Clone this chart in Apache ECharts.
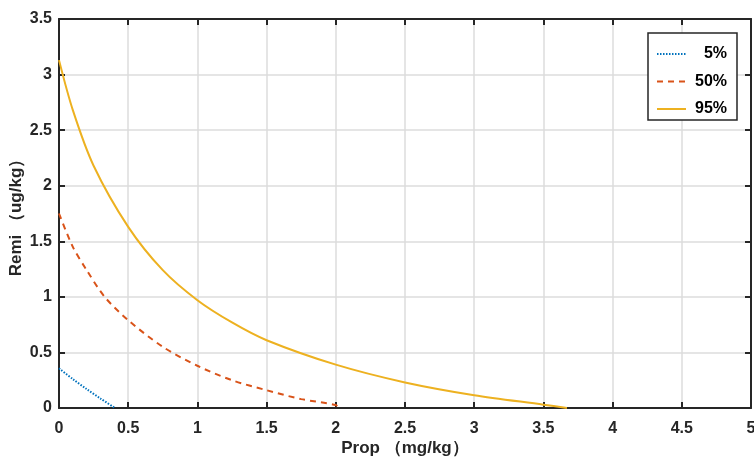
<!DOCTYPE html>
<html>
<head>
<meta charset="utf-8">
<script src="https://cdn.jsdelivr.net/npm/echarts@6/dist/echarts.min.js"></script>
<style>html,body{margin:0;padding:0;background:#fff}#c{width:754px;height:457px}</style>
</head>
<body>
<div id="c"></div>
<script>
var seriesNames = ['5%', '50%', '95%'];
var p5 = [[0, 0.357], [0.1, 0.26], [0.2, 0.17], [0.3, 0.085], [0.405, 0]];
var p50 = [[0, 1.75], [0.1, 1.45], [0.2, 1.24], [0.33, 1.0], [0.5, 0.79], [0.75, 0.55], [1.0, 0.38], [1.25, 0.25], [1.5, 0.16], [1.75, 0.08], [2.0, 0.027], [2.02, 0]];
var p95 = [[0, 3.13], [0.1, 2.68], [0.25, 2.18], [0.5, 1.63], [0.75, 1.24], [1.0, 0.97], [1.25, 0.77], [1.5, 0.61], [2.0, 0.39], [2.5, 0.23], [3.0, 0.115], [3.5, 0.03], [3.67, 0]];
var xName = 'Prop （mg/kg）';
var yName = 'Remi （ug/kg）';

var font = 'Liberation Sans, Arial, sans-serif';
var chart = echarts.init(document.getElementById('c'));
var axisCommon = {
  axisLine: {show: true, onZero: false, lineStyle: {color: '#262626', width: 2}},
  axisTick: {show: true, inside: true, length: 6, lineStyle: {color: '#262626', width: 2}}
};
chart.setOption({
  animation: false,
  grid: {left: 59, right: 3, top: 19, bottom: 49, containLabel: false, outerBoundsMode: 'none'},
  legend: {
    orient: 'vertical', right: 17, top: 33,
    data: seriesNames,
    backgroundColor: '#fff', borderColor: '#262626', borderWidth: 1.5,
    padding: [13, 10, 3, 8], itemGap: 11.5, itemWidth: 29, itemHeight: 14,
    itemStyle: {opacity: 0},
    formatter: function (n) { return '{a|' + n + '}'; },
    textStyle: {rich: {a: {width: 36, align: 'right', fontFamily: font, fontWeight: 'bold', fontSize: 16, color: '#000', lineHeight: 20}}}
  },
  xAxis: [
    Object.assign({
      type: 'value', min: 0, max: 5, interval: 0.5, position: 'bottom',
      name: xName, nameLocation: 'middle', nameGap: 32, nameMoveOverlap: false,
      nameTextStyle: {fontFamily: font, fontWeight: 'bold', fontSize: 17, color: '#262626'},
      axisLabel: {fontFamily: font, fontWeight: 'bold', fontSize: 16, color: '#262626', margin: 13},
      splitLine: {show: true, lineStyle: {color: '#dcdcdc', width: 1.5}}
    }, axisCommon),
    Object.assign({
      type: 'value', min: 0, max: 5, interval: 0.5, position: 'top',
      axisLabel: {show: false}, splitLine: {show: false}
    }, axisCommon)
  ],
  yAxis: [
    Object.assign({
      type: 'value', min: 0, max: 3.5, interval: 0.5, position: 'left',
      name: yName, nameLocation: 'middle', nameGap: 34, nameMoveOverlap: false,
      nameTextStyle: {fontFamily: font, fontWeight: 'bold', fontSize: 17, color: '#262626'},
      axisLabel: {fontFamily: font, fontWeight: 'bold', fontSize: 16, color: '#262626', margin: 7},
      splitLine: {show: true, lineStyle: {color: '#dcdcdc', width: 1.5}}
    }, axisCommon),
    Object.assign({
      type: 'value', min: 0, max: 3.5, interval: 0.5, position: 'right',
      axisLabel: {show: false}, splitLine: {show: false}
    }, axisCommon)
  ],
  series: [
    {name: seriesNames[0], type: 'line', data: p5, smooth: 0.3, symbol: 'none', z: 5,
     lineStyle: {color: '#0072BD', width: 2, type: [1.5, 1.5]}, itemStyle: {color: '#0072BD'}},
    {name: seriesNames[1], type: 'line', data: p50, smooth: 0.3, symbol: 'none', z: 5,
     lineStyle: {color: '#D95319', width: 2, type: [6, 5]}, itemStyle: {color: '#D95319'}},
    {name: seriesNames[2], type: 'line', data: p95, smooth: 0.3, symbol: 'none', z: 5,
     lineStyle: {color: '#EDB120', width: 2}, itemStyle: {color: '#EDB120'}}
  ]
});
</script>
</body>
</html>
